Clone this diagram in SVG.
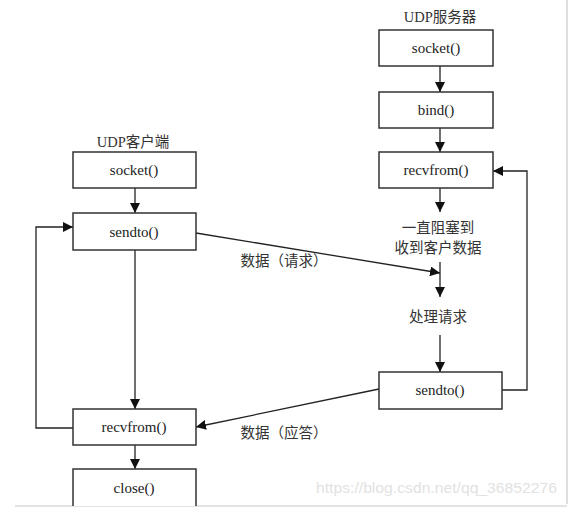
<svg xmlns="http://www.w3.org/2000/svg" width="579" height="513" viewBox="0 0 579 513">
<style>
.box{fill:#fff;stroke:#333;stroke-width:1.5}
.fn{font-family:"Liberation Serif","Noto Sans CJK SC",serif;font-size:15px;fill:#222;text-anchor:middle}
.cn{font-family:"Liberation Serif","Noto Sans CJK SC",serif;font-size:14.5px;fill:#333;text-anchor:middle}
.ln{fill:none;stroke:#222;stroke-width:1.3}
.frame{fill:none;stroke:#c8c8c8;stroke-width:1.2}
.wm{font-family:"Liberation Sans",Arial,sans-serif;font-size:15px;fill:#e2e2e2}
</style>
<defs>
<marker id="ah" viewBox="0 0 10 10" refX="10" refY="5" markerWidth="10" markerHeight="10" markerUnits="userSpaceOnUse" orient="auto">
<path d="M0,0 L10,5 L0,10 z" fill="#111"/>
</marker>
</defs>
<rect width="579" height="513" fill="#fff"/>
<path class="frame" d="M567,0 V504 M15,506 H567"/>
<text class="wm" x="316" y="493" textLength="241" lengthAdjust="spacingAndGlyphs">https://blog.csdn.net/qq_36852276</text>

<g id="connectors">
<!-- server -->
<line class="ln" x1="440" y1="66" x2="440" y2="92" marker-end="url(#ah)"/>
<line class="ln" x1="440" y1="128" x2="440" y2="152" marker-end="url(#ah)"/>
<line class="ln" x1="440" y1="188" x2="440" y2="212" marker-end="url(#ah)"/>
<line class="ln" x1="440" y1="262" x2="440" y2="297" marker-end="url(#ah)"/>
<line class="ln" x1="440" y1="335" x2="440" y2="372" marker-end="url(#ah)"/>
<polyline class="ln" points="502,390 527,390 527,171 493,171" marker-end="url(#ah)"/>
<!-- client -->
<line class="ln" x1="135" y1="188" x2="135" y2="213" marker-end="url(#ah)"/>
<line class="ln" x1="135" y1="250" x2="135" y2="409" marker-end="url(#ah)"/>
<line class="ln" x1="135" y1="445" x2="135" y2="469" marker-end="url(#ah)"/>
<polyline class="ln" points="73,428 36,428 36,227 73,227" marker-end="url(#ah)"/>
<!-- cross -->
<line class="ln" x1="196" y1="233" x2="440" y2="273" marker-end="url(#ah)"/>
<line class="ln" x1="379" y1="389" x2="196" y2="427" marker-end="url(#ah)"/>
<text class="cn" x="284" y="266">数据（请求）</text>
<text class="cn" x="284" y="438">数据（应答）</text>
</g>

<g id="server-title"><text class="cn" x="440" y="22">UDP服务器</text></g>
<g id="server-socket"><rect class="box" x="379" y="30" width="114" height="36"/><text class="fn" x="436" y="53">socket()</text></g>
<g id="server-bind"><rect class="box" x="379" y="92" width="114" height="36"/><text class="fn" x="436" y="115">bind()</text></g>
<g id="server-recvfrom"><rect class="box" x="379" y="152" width="114" height="36"/><text class="fn" x="436" y="175">recvfrom()</text></g>
<g id="server-block"><text class="cn" x="438" y="233">一直阻塞到</text><text class="cn" x="438" y="253">收到客户数据</text></g>
<g id="server-process"><text class="cn" x="438" y="322">处理请求</text></g>
<g id="server-sendto"><rect class="box" x="379" y="372" width="123" height="37"/><text class="fn" x="440" y="395">sendto()</text></g>

<g id="client-title"><text class="cn" x="133" y="147">UDP客户端</text></g>
<g id="client-socket"><rect class="box" x="73" y="152" width="123" height="36"/><text class="fn" x="134" y="175">socket()</text></g>
<g id="client-sendto"><rect class="box" x="73" y="213" width="123" height="37"/><text class="fn" x="134" y="237">sendto()</text></g>
<g id="client-recvfrom"><rect class="box" x="73" y="409" width="123" height="36"/><text class="fn" x="134" y="432">recvfrom()</text></g>
<g id="client-close"><path class="box" d="M73,506 V469 H196 V506"/><text class="fn" x="134" y="493">close()</text></g>
</svg>
